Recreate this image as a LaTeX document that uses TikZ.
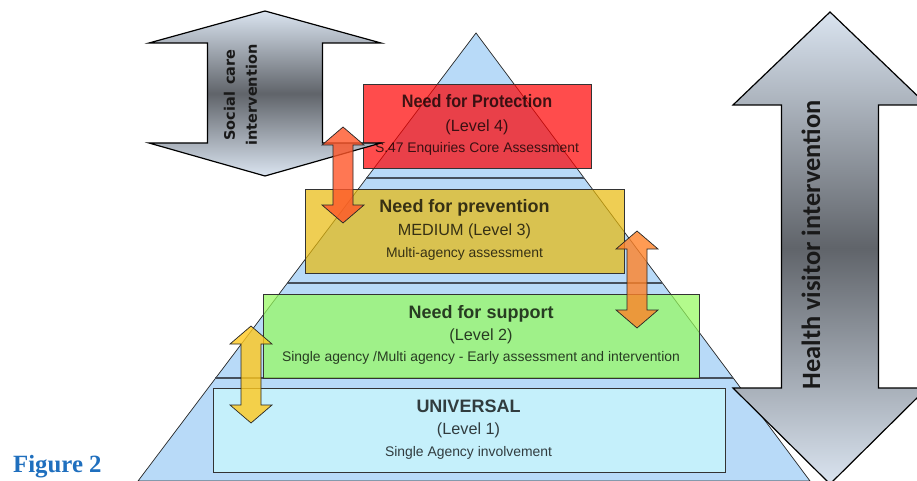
\documentclass[tikz,border=0pt]{standalone}
\usepackage{fontspec}
\setmainfont{Liberation Sans}
\newfontfamily\armfont{DejaVu Sans}
\newfontfamily\sidefont{Carlito}
\newfontfamily\figfont{Liberation Serif}

\definecolor{pyramidblue}{RGB}{184,218,248}
\definecolor{bandline}{RGB}{70,80,92}
\definecolor{protectfill}{RGB}{255,0,0}
\definecolor{preventfill}{RGB}{232,185,10}
\definecolor{supportfill}{RGB}{150,250,95}
\definecolor{universalfill}{RGB}{197,240,251}
\definecolor{armlight}{RGB}{218,228,240}
\definecolor{armdark}{RGB}{96,100,106}
\definecolor{redarrow}{RGB}{255,85,40}
\definecolor{orangearrow}{RGB}{255,130,40}
\definecolor{yellowarrow}{RGB}{255,200,30}
\definecolor{figblue}{RGB}{31,111,190}

\tikzset{
  levelbox/.style={draw=black!80, line width=0.9pt, inner sep=0pt},
  title/.style={font=\bfseries\fontsize{18}{20}\selectfont, text=black, text opacity=0.75, inner sep=0pt},
  levelno/.style={font=\fontsize{16.2}{18}\selectfont, text=black, text opacity=0.75, inner sep=0pt},
  detail/.style={font=\fontsize{13.9}{16}\selectfont, text=black, text opacity=0.75, inner sep=0pt},
  bigarrow/.style={draw=black, line width=1.2pt, top color=armlight, bottom color=armlight, middle color=armdark},
  smallarrow/.style={draw=black!85, line width=0.7pt, fill opacity=0.8}
}

\begin{document}
\begin{tikzpicture}[x=1pt, y=-1pt]
  \clip (0,0) rectangle (917,481);

  % pyramid and its bands
  \coordinate (apex) at (476,33);
  \draw[fill=pyramidblue, draw=black!85, line width=0.7pt] (apex) -- (810,481) -- (138,481) -- cycle;
  \foreach \y in {178,283,378}{
    \draw[bandline, line width=1.2pt] ({476-(\y-33)*0.756},\y) -- ({476+(\y-33)*0.745},\y);
  }

  % the four levels
  \node[levelbox, fill=protectfill, fill opacity=0.7, minimum width=228pt, minimum height=84pt] (protection) at (477,126) {};
  \node[levelbox, fill=preventfill, fill opacity=0.7, minimum width=319pt, minimum height=84pt] (prevention) at (464.5,231) {};
  \node[levelbox, fill=supportfill, fill opacity=0.72, minimum width=436pt, minimum height=84pt] (support) at (481,336) {};
  \node[levelbox, fill=universalfill, minimum width=512pt, minimum height=84pt] (universal) at (469,430) {};

  \node[title] (protection-title) at (477,101.5) {\scalebox{0.9}[1]{Need for Protection}};
  \node[levelno] (protection-level) at (477,127.5) {(Level 4)};
  \node[detail] (protection-detail) at (477,149) {S.47 Enquiries Core Assessment};

  \node[title] (prevention-title) at (464.5,208) {Need for prevention};
  \node[levelno] (prevention-level) at (464.5,231) {MEDIUM (Level 3)};
  \node[detail] (prevention-detail) at (464.5,254) {Multi-agency assessment};

  \node[title] (support-title) at (481,314) {Need for support};
  \node[levelno] (support-level) at (481,336.5) {(Level 2)};
  \node[detail] (support-detail) at (481,358) {Single agency /Multi agency - Early assessment and intervention};

  \node[title] (universal-title) at (468.5,406.5) {UNIVERSAL};
  \node[levelno] (universal-level) at (468.5,430) {(Level 1)};
  \node[detail] (universal-detail) at (468.5,452.5) {Single Agency involvement};

  % social care arrow
  \draw[bigarrow] (265,11) -- (381,43) -- (322.5,43) -- (322.5,143) -- (381,143) -- (265,176)
    -- (149,143) -- (207.5,143) -- (207.5,43) -- (149,43) -- cycle;
  \node[rotate=90, align=center, font=\armfont\bfseries\fontsize{14.5}{22}\selectfont, text=black!90] (social)
    at (240.5,95) {Social\hspace{7pt}care\\intervention};

  % moves between levels
  \foreach \cx/\yt/\yb/\col in {343/127/223/redarrow, 637/231/328/orangearrow, 251/326/423/yellowarrow}{
    \draw[smallarrow, fill=\col] (\cx,\yt) -- ({\cx+21},{\yt+18}) -- ({\cx+10},{\yt+18}) -- ({\cx+10},{\yb-18})
      -- ({\cx+21},{\yb-18}) -- (\cx,\yb) -- ({\cx-21},{\yb-18}) -- ({\cx-10},{\yb-18})
      -- ({\cx-10},{\yt+18}) -- ({\cx-21},{\yt+18}) -- cycle;
  }

  % health visitor arrow
  \draw[bigarrow] (830,12) -- (927,105) -- (878.5,105) -- (878.5,388) -- (927,388) -- (830,484)
    -- (733,388) -- (781.5,388) -- (781.5,105) -- (733,105) -- cycle;
  \node[rotate=90, font=\sidefont\bfseries\fontsize{26.4}{30}\selectfont, text=black!90] (health)
    at (811,245) {Health visitor intervention};

  \node[anchor=base west, inner sep=0pt, font=\figfont\bfseries\fontsize{24.8}{28}\selectfont, text=figblue] (figure)
    at (13,472) {Figure 2};
\end{tikzpicture}
\end{document}
